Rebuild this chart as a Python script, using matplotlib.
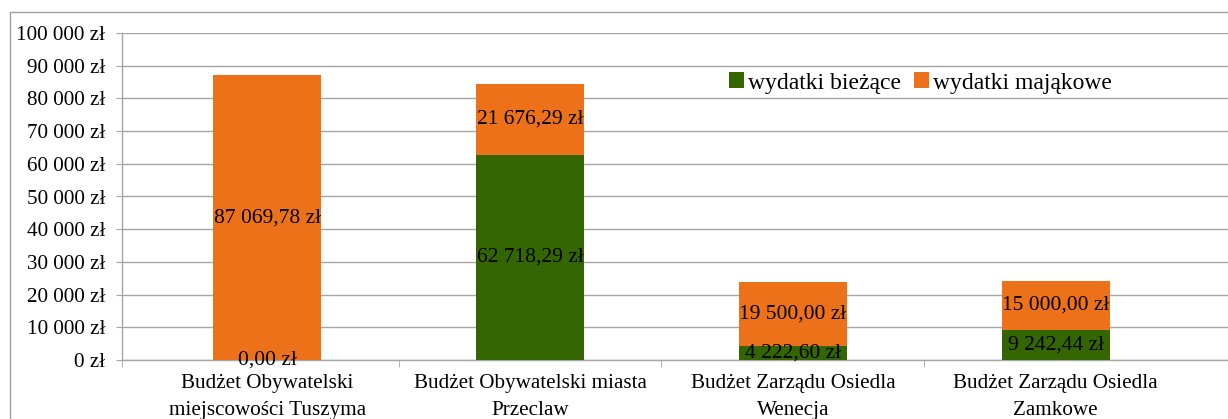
"""
Stacked bar chart: budżety obywatelskie i osiedlowe - wydatki bieżące / majątkowe.
"""

import numpy as np
import matplotlib
matplotlib.use("Agg")
import matplotlib.pyplot as plt
from matplotlib.patches import Rectangle
from matplotlib.ticker import FuncFormatter

# Data
categories = [
    "Budżet Obywatelski\nmiejscowości Tuszyma",
    "Budżet Obywatelski miasta\nPrzeclaw",
    "Budżet Zarządu Osiedla\nWenecja",
    "Budżet Zarządu Osiedla\nZamkowe",
]
wydatki_biezace = [0.00, 62718.29, 4222.60, 9242.44]
wydatki_majatkowe = [87069.78, 21676.29, 19500.00, 15000.00]
series_names = ["wydatki bieżące", "wydatki mająkowe"]

GREEN = "#336600"
ORANGE = "#EC7118"
GRID = "#a6a6a6"

plt.rcParams["font.family"] = ["Liberation Serif", "DejaVu Serif"]
FS_TICK = 15.2
FS_LABEL = 15.5
FS_LEGEND = 17


def pln(v, decimals=2):
    """Format like '62 718,29 zł'."""
    s = f"{v:,.{decimals}f}".replace(",", " ").replace(".", ",")
    return s + " zł"


def main():
    fig = plt.figure(figsize=(12.28, 4.19), dpi=100)
    W, H = 1228, 419
    ax = fig.add_axes([122 / W, 1 - 360 / H, 1 - 122 / W, (360 - 33) / H])

    x = np.arange(len(categories))
    width = 0.41
    b1 = ax.bar(x, wydatki_biezace, width, color=GREEN, label=series_names[0], zorder=3)
    b2 = ax.bar(x, wydatki_majatkowe, width, bottom=wydatki_biezace, color=ORANGE,
                label=series_names[1], zorder=3)

    # data labels in the middle of each segment
    for bars, vals in ((b1, wydatki_biezace), (b2, wydatki_majatkowe)):
        for rect, v in zip(bars, vals):
            cx = rect.get_x() + rect.get_width() / 2
            cy = rect.get_y() + rect.get_height() / 2
            ax.text(cx, cy, pln(v), ha="center", va="center", fontsize=FS_LABEL,
                    color="black", zorder=5)

    ax.set_ylim(0, 100000)
    ax.set_yticks(np.arange(0, 100001, 10000))
    ax.yaxis.set_major_formatter(FuncFormatter(lambda v, p: pln(v, 0)))
    x_left = (122 - 267.3) / 262.8
    ax.set_xlim(x_left, (1228 - 267.3) / 262.8)

    ax.set_xticks(x)
    ax.set_xticklabels(categories, fontsize=FS_TICK, linespacing=1.55)
    ax.set_xticks([x_left, 0.5, 1.5, 2.5], minor=True)
    ax.tick_params(axis="x", which="major", length=0, pad=10)
    ax.tick_params(axis="x", which="minor", length=5, color=GRID, direction="out")
    ax.tick_params(axis="y", length=4.3, color=GRID, labelsize=FS_TICK, pad=8)

    ax.grid(axis="y", color=GRID, linewidth=1.0, zorder=0)
    for side in ("top", "right"):
        ax.spines[side].set_visible(False)
    for side in ("left", "bottom"):
        ax.spines[side].set_color(GRID)
        ax.spines[side].set_linewidth(1.0)

    ax.legend(loc="center left", bbox_to_anchor=(729 / W, 1 - 83 / H),
              bbox_transform=fig.transFigure, ncol=2, frameon=False, fontsize=FS_LEGEND,
              handlelength=0.65, handleheight=0.65, handletextpad=0.15,
              columnspacing=0.55, borderpad=0, borderaxespad=0)

    # outer chart frame (only left/top visible in the crop)
    fig.patches.append(Rectangle((10 / W, -0.1), 1.2, 1.1 - 12 / H,
                                 transform=fig.transFigure, fill=False,
                                 edgecolor="#a0a0a0", linewidth=1.0))

    fig.savefig("out.png", dpi=100)
    plt.close(fig)


if __name__ == "__main__":
    main()
